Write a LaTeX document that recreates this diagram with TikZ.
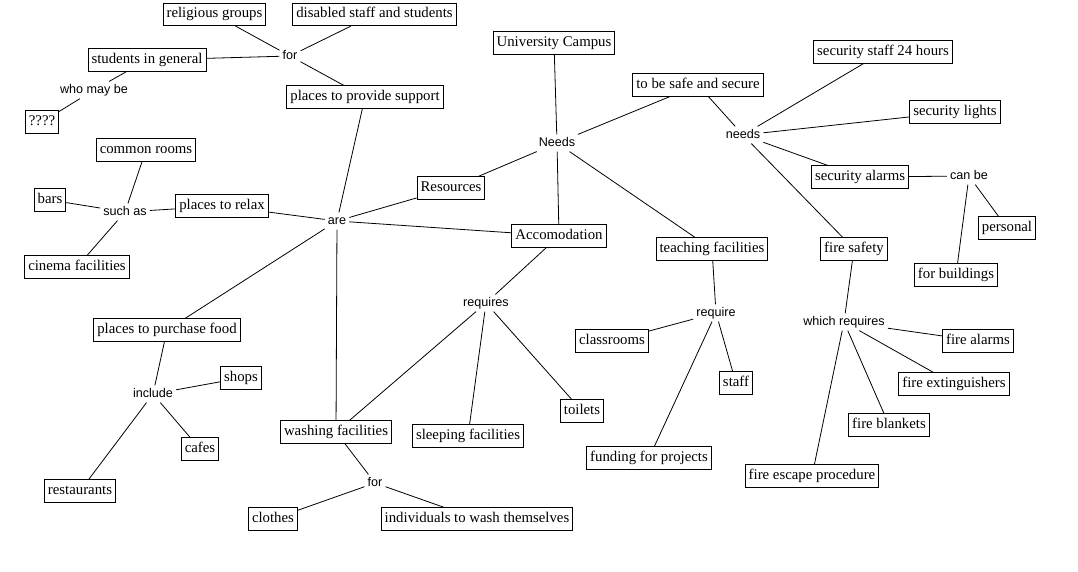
\documentclass[tikz,border=0pt]{standalone}
\usepackage{fontspec}
\setmainfont{Liberation Serif}
\newfontfamily\lblfont{Liberation Sans}
\begin{document}
\begin{tikzpicture}[x=1pt,y=-1pt,
  concept/.style={draw=black,line width=0.9pt,fill=white,font=\fontsize{14.8}{17}\selectfont,
    inner xsep=3.5pt,inner ysep=4.5pt,text height=10pt,text depth=3.2pt},
  linkword/.style={font=\lblfont\fontsize{12.6}{14}\selectfont,inner sep=3pt,text height=8.8pt,text depth=2pt},
  link/.style={draw=black,line width=0.8pt}]
\useasboundingbox[fill=white] (0,0) rectangle (1078,571);

% concepts
\node[concept] (relig) at (214.5,14.5) {religious groups};
\node[concept] (disab) at (374.5,14.5) {disabled staff and students};
\node[concept] (stud) at (147,60) {students in general};
\node[concept] (q) at (42,122) {????};
\node[concept] (support) at (365,97) {places to provide support};
\node[concept] (campus) at (554,43) {University Campus};
\node[concept] (safe) at (698,85) {to be safe and secure};
\node[concept] (secstaff) at (883,52) {security staff 24 hours};
\node[concept] (seclights) at (955,112) {security lights};
\node[concept] (common) at (146,150) {common rooms};
\node[concept] (bars) at (50,200) {bars};
\node[concept] (relax) at (222,206) {places to relax};
\node[concept] (resources) at (451,188) {Resources};
\node[concept] (accom) at (559,236) {Accomodation};
\node[concept] (secalarms) at (860,177) {security alarms};
\node[concept] (personal) at (1007,228) {personal};
\node[concept] (buildings) at (956,275) {for buildings};
\node[concept] (teaching) at (712,249) {teaching facilities};
\node[concept] (firesafety) at (854,249) {fire safety};
\node[concept] (cinema) at (77,267) {cinema facilities};
\node[concept] (classrooms) at (612,341) {classrooms};
\node[concept] (firealarms) at (978,341) {fire alarms};
\node[concept] (food) at (167,330) {places to purchase food};
\node[concept] (shops) at (241,378) {shops};
\node[concept] (cafes) at (200,449) {cafes};
\node[concept] (restaurants) at (80,491) {restaurants};
\node[concept] (washing) at (336,432) {washing facilities};
\node[concept] (sleeping) at (468,436) {sleeping facilities};
\node[concept] (toilets) at (582,411) {toilets};
\node[concept] (clothes) at (273,519) {clothes};
\node[concept] (individuals) at (477,519) {individuals to wash themselves};
\node[concept] (staff) at (736,383) {staff};
\node[concept] (funding) at (649,458) {funding for projects};
\node[concept] (extinguishers) at (954,384) {fire extinguishers};
\node[concept] (blankets) at (889,425) {fire blankets};
\node[concept] (escape) at (812,476) {fire escape procedure};

% link words
\node[linkword] (forA) at (290,56) {for};
\node[linkword] (whomay) at (94,90) {who may be};
\node[linkword] (needsB) at (743,135) {needs};
\node[linkword] (needsA) at (557,143) {Needs};
\node[linkword] (suchas) at (125,212) {such as};
\node[linkword] (are) at (337,221) {are};
\node[linkword] (canbe) at (969,176) {can be};
\node[linkword] (requires) at (486,303) {requires};
\node[linkword] (require) at (716,313) {require};
\node[linkword] (whichreq) at (844,322) {which requires};
\node[linkword] (include) at (153,394) {include};
\node[linkword] (forB) at (375,483) {for};

% connectors
\draw[link] (relig) -- (forA);
\draw[link] (disab) -- (forA);
\draw[link] (stud) -- (forA);
\draw[link] (forA) -- (support);
\draw[link] (stud) -- (whomay);
\draw[link] (whomay) -- (q);
\draw[link] (support) -- (are);
\draw[link] (common) -- (suchas);
\draw[link] (bars) -- (suchas);
\draw[link] (suchas) -- (relax);
\draw[link] (suchas) -- (cinema);
\draw[link] (relax) -- (are);
\draw[link] (are) -- (resources);
\draw[link] (are) -- (accom);
\draw[link] (are) -- (food);
\draw[link] (are) -- (washing);
\draw[link] (resources) -- (needsA);
\draw[link] (campus) -- (needsA);
\draw[link] (needsA) -- (accom);
\draw[link] (needsA) -- (safe);
\draw[link] (needsA) -- (teaching);
\draw[link] (safe) -- (needsB);
\draw[link] (needsB) -- (secstaff);
\draw[link] (needsB) -- (seclights);
\draw[link] (needsB) -- (secalarms);
\draw[link] (needsB) -- (firesafety);
\draw[link] (secalarms) -- (canbe);
\draw[link] (canbe) -- (personal);
\draw[link] (canbe) -- (buildings);
\draw[link] (accom) -- (requires);
\draw[link] (requires) -- (washing);
\draw[link] (requires) -- (sleeping);
\draw[link] (requires) -- (toilets);
\draw[link] (food) -- (include);
\draw[link] (include) -- (shops);
\draw[link] (include) -- (cafes);
\draw[link] (include) -- (restaurants);
\draw[link] (washing) -- (forB);
\draw[link] (forB) -- (clothes);
\draw[link] (forB) -- (individuals);
\draw[link] (teaching) -- (require);
\draw[link] (require) -- (classrooms);
\draw[link] (require) -- (staff);
\draw[link] (require) -- (funding);
\draw[link] (firesafety) -- (whichreq);
\draw[link] (whichreq) -- (firealarms);
\draw[link] (whichreq) -- (extinguishers);
\draw[link] (whichreq) -- (blankets);
\draw[link] (whichreq) -- (escape);
\end{tikzpicture}
\end{document}
